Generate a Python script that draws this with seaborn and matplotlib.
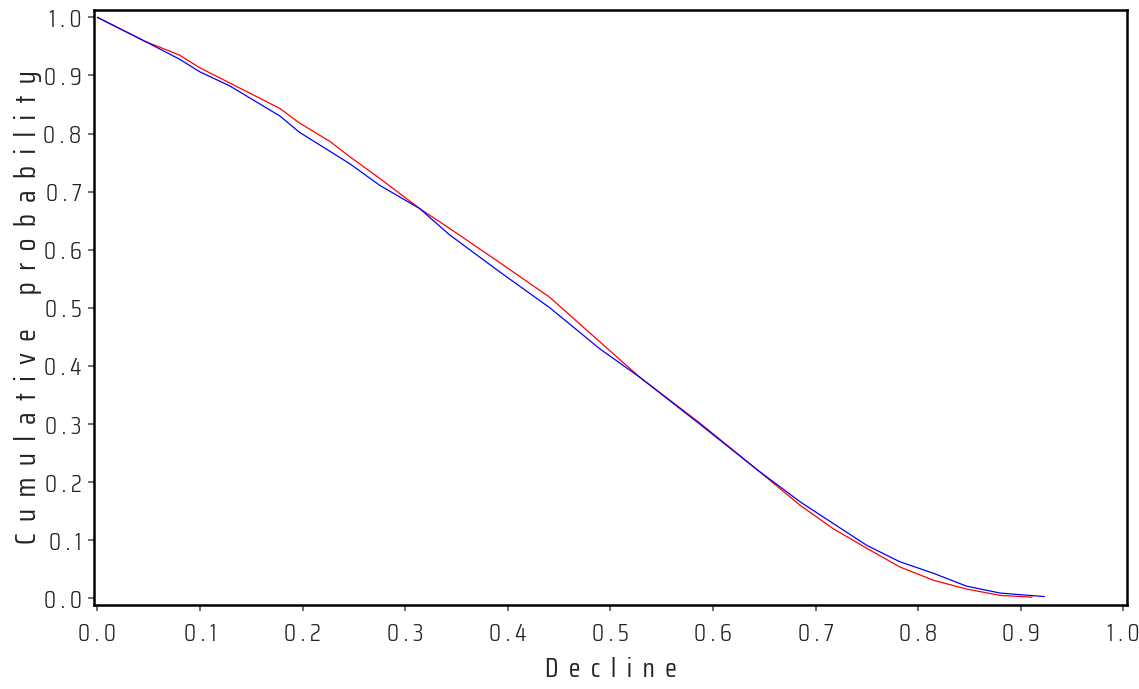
import pandas as pd
import matplotlib
matplotlib.use("Agg")
import matplotlib.pyplot as plt
from matplotlib import font_manager
import seaborn as sns

# Empirical survival curves of the decline, two groups
decline_red = [0.000, 0.046, 0.080, 0.100, 0.129, 0.178, 0.197, 0.227, 0.246, 0.275,
               0.314, 0.343, 0.392, 0.441, 0.490, 0.529, 0.587, 0.644, 0.685, 0.717,
               0.750, 0.782, 0.815, 0.847, 0.880, 0.911]
prob_red = [1.000, 0.959, 0.935, 0.913, 0.887, 0.843, 0.818, 0.786, 0.760, 0.723,
            0.671, 0.637, 0.578, 0.518, 0.441, 0.380, 0.302, 0.220, 0.160, 0.120,
            0.086, 0.054, 0.031, 0.016, 0.005, 0.002]

decline_blue = [0.000, 0.046, 0.080, 0.100, 0.129, 0.178, 0.197, 0.227, 0.246, 0.275,
                0.314, 0.343, 0.392, 0.441, 0.490, 0.529, 0.587, 0.644, 0.685, 0.717,
                0.750, 0.782, 0.815, 0.847, 0.880, 0.923]
prob_blue = [1.000, 0.959, 0.928, 0.906, 0.882, 0.830, 0.802, 0.769, 0.748, 0.711,
             0.671, 0.626, 0.562, 0.500, 0.429, 0.380, 0.300, 0.220, 0.166, 0.129,
             0.091, 0.063, 0.043, 0.021, 0.009, 0.003]

groups = ["red", "blue"]
tick_values = [0.0, 0.1, 0.2, 0.3, 0.4, 0.5, 0.6, 0.7, 0.8, 0.9, 1.0]
tick_labels = ["0.0", "0.1", "0.2", "0.3", "0.4", "0.5", "0.6", "0.7", "0.8", "0.9", "1.0"]
x_title = "Decline"
y_title = "Cumulative probability"

df = pd.concat([
    pd.DataFrame({"Decline": decline_red, "Prob": prob_red, "Group": "red"}),
    pd.DataFrame({"Decline": decline_blue, "Prob": prob_blue, "Group": "blue"}),
], ignore_index=True)

sns.set_style("ticks")
installed = {f.name for f in font_manager.fontManager.ttflist}
preferred = ["Saira Condensed", "Saira SemiCondensed", "Roboto Condensed"]
family = next((f for f in preferred if f in installed), "DejaVu Sans")
plt.rcParams["font.family"] = [family, "DejaVu Sans"]
plt.rcParams["font.weight"] = 300


def spaced(s, gap=" "):
    """Letter-spaced rendering of a label."""
    return gap.join(s)


fig = plt.figure(figsize=(11.39, 6.89), dpi=100)
ax = fig.add_axes([94 / 1139, 84 / 689, (1127 - 94) / 1139, (605 - 10) / 689])

sns.lineplot(data=df, x="Decline", y="Prob", hue="Group", hue_order=groups,
             palette={"red": "#ff0000", "blue": "#0000ff"}, sort=False,
             estimator=None, linewidth=0.9, legend=False, ax=ax)

ax.set_xlim(-0.0033, 1.0035)
ax.set_ylim(-0.0115, 1.0126)
ax.set_xticks(tick_values)
ax.set_yticks(tick_values)
ax.set_xticklabels([spaced(t) for t in tick_labels])
ax.set_yticklabels([spaced(t) for t in tick_labels])
ax.tick_params(axis="both", direction="out", length=4, width=1.2, color="#555555",
               labelsize=18, labelcolor="#222222", pad=5)
ax.tick_params(axis="x", pad=8)

for side in ["top", "right", "bottom", "left"]:
    ax.spines[side].set_visible(True)
    ax.spines[side].set_linewidth(1.8)
    ax.spines[side].set_color("black")

ax.set_xlabel(spaced(x_title, "  "), fontsize=19.5, color="#222222", labelpad=8)
ax.set_ylabel("      ".join(spaced(w, "  ") for w in y_title.split()), fontsize=21,
              color="#222222", labelpad=1)

fig.savefig("out.png", dpi=100, facecolor="white")
